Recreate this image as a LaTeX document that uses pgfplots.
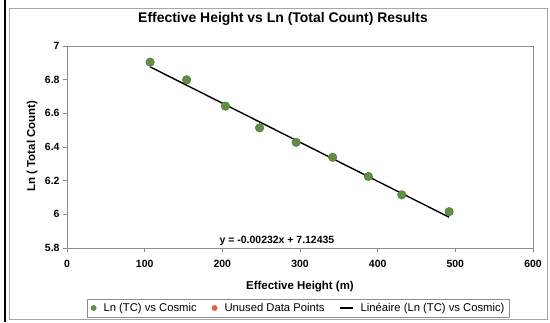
\documentclass[border=0pt]{standalone}
\usepackage{pgfplots}
\pgfplotsset{compat=1.18}
\usepackage{fontspec}
\setmainfont{Liberation Sans}
\definecolor{ptgreen}{RGB}{96,142,66}
\definecolor{ptorange}{RGB}{232,96,60}
\definecolor{axgray}{RGB}{140,140,140}
\begin{document}
\begin{tikzpicture}[x=1bp,y=1bp]
\path[use as bounding box] (-67,-74) rectangle (483,248);
\fill[white] (-67,-74) rectangle (483,248);
\draw[gray!70, line width=0.8bp] (-58,-71) rectangle (480,240);
\draw[black, line width=2bp] (-62,-74) -- (-62,248);
\begin{axis}[
  at={(0,0)}, anchor=south west,
  scale only axis, width=466bp, height=202bp,
  xmin=0, xmax=600, ymin=5.8, ymax=7,
  xtick={0,100,...,600},
  ytick={5.8,6,6.2,6.4,6.6,6.8,7},
  axis line style={axgray, line width=0.8bp},
  tick style={axgray, line width=0.8bp},
  major tick length=4bp,
  tick align=outside,
  tick pos=left,
  /pgf/number format/assume math mode=true,
  ticklabel style={font=\fontsize{10.5}{12}\selectfont\bfseries},
  xticklabel style={yshift=-5bp},
  title={Effective Height vs Ln (Total Count) Results},
  title style={font=\fontsize{14}{16}\selectfont\bfseries, at={(0.4635,1.104)}, anchor=center},
  xlabel={Effective Height (m)},
  xlabel style={font=\fontsize{11.5}{13}\selectfont\bfseries, at={(0.5,-0.19)}, anchor=center},
  ylabel={Ln ( Total Count)},
  ylabel style={font=\fontsize{11.5}{13}\selectfont\bfseries, at={(-0.075,0.505)}, anchor=center, rotate=0},
  legend columns=3,
  legend style={at={(0.497,-0.297)}, anchor=center, draw=axgray, line width=0.6bp,
    font=\fontsize{11.3}{13}\selectfont, inner xsep=3bp, inner ysep=2bp,
    /tikz/every odd column/.append style={column sep=5bp},
    /tikz/every even column/.append style={column sep=13bp}},
  legend cell align=left,
  clip=false,
]
\addplot[only marks, mark=*, mark size=4.3bp, color=ptgreen, mark options={draw=ptgreen!80!black, line width=0.4bp},
  legend image code/.code={\fill[ptgreen] (0.3cm,0cm) circle (2.6bp);}]
  coordinates {(107,6.904) (154,6.799) (204,6.643) (248,6.514) (295,6.428) (342,6.339) (388,6.225) (431,6.116) (492,6.016)};
\addlegendentry{Ln (TC) vs Cosmic}
\addlegendimage{legend image code/.code={\fill[ptorange] (0.3cm,0cm) circle (2.6bp);}}
\addlegendentry{Unused Data Points}
\addplot[black, line width=1.4bp, mark=none, forget plot]
  coordinates {(107,6.87611) (492,5.98291)};
\addlegendimage{legend image code/.code={\draw[black, line width=1.2bp] (0.15cm,0cm) -- (0.6cm,0cm);}}
\addlegendentry{Linéaire (Ln (TC) vs Cosmic)}
\node[font=\fontsize{10.5}{12}\selectfont\bfseries, anchor=center] at (axis description cs:0.4506,0.035) {y = -0.00232x + 7.12435};
\end{axis}
\end{tikzpicture}
\end{document}
